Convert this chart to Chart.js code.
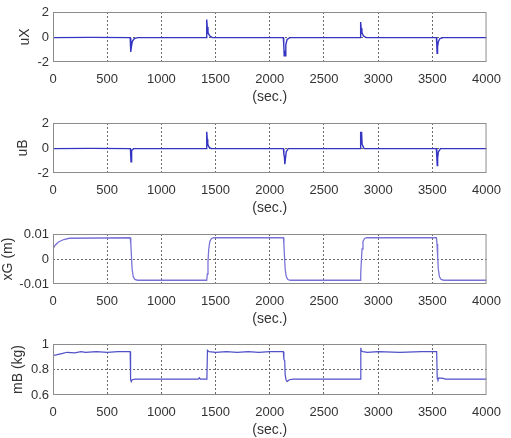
<!DOCTYPE html>
<html>
<head>
<meta charset="utf-8">
<script src="https://cdn.jsdelivr.net/npm/chart.js@4.4.1/dist/chart.umd.min.js"></script>
<style>
    html, body { margin: 0; padding: 0; background: #fff; }
    #wrap { position: relative; width: 511px; height: 438px; overflow: hidden; }
    #wrap canvas { position: absolute; left: 0; }
</style>
</head>
<body>
<div id="wrap"></div>
<script>
// --- Data (time in sec., value) ---
const xTicksMax = 4000;

const uxSeries = [
    [0, -0.05], [350, -0.03], [712, -0.05], [716, -0.5], [719, -1.2], [723, -0.8], [732, -0.35], [750, -0.12], [780, -0.05],
    [1100, -0.05], [1414, -0.05], [1417, 0.6], [1420, 1.4], [1423, 0.8], [1430, 0.35], [1445, 0.1], [1470, -0.05],
    [1800, -0.05], [2125, -0.05], [2129, -0.6], [2133, -1.5], [2137, -1.1], [2142, -1.5], [2148, -0.6], [2160, -0.2], [2185, -0.05],
    [2500, -0.05], [2834, -0.05], [2837, 0.5], [2840, 1.2], [2843, 0.7], [2850, 0.35], [2865, 0.08], [2890, -0.05],
    [3200, -0.05], [3537, -0.05], [3541, -0.6], [3544, -1.3], [3548, -0.8], [3556, -0.35], [3570, -0.12], [3600, -0.05], [4000, -0.05]
];

const ubSeries = [
    [0, -0.05], [350, -0.03], [714, -0.05], [717, -0.6], [720, -1.1], [723, -0.6], [728, -0.2], [745, -0.05],
    [1100, -0.05], [1414, -0.05], [1417, 0.7], [1420, 1.3], [1423, 0.7], [1428, 0.3], [1440, 0.05], [1460, -0.05],
    [1800, -0.05], [2126, -0.05], [2130, -0.5], [2135, -0.7], [2139, -1.3], [2144, -0.9], [2152, -0.3], [2170, -0.05],
    [2500, -0.05], [2834, -0.05], [2837, 0.7], [2840, 1.3], [2843, 1.0], [2847, 1.3], [2852, 0.3], [2870, -0.05],
    [3200, -0.05], [3537, -0.05], [3541, -0.7], [3545, -1.4], [3549, -0.8], [3556, -0.3], [3575, -0.05], [4000, -0.05]
];

const xgSeries = [
    [0, 0.004], [20, 0.0055], [50, 0.0068], [100, 0.0078], [150, 0.0083], [712, 0.0085],
    [718, 0.006], [724, 0.001], [730, -0.004], [740, -0.007], [755, -0.0082], [780, -0.0085],
    [1418, -0.0085], [1424, -0.006], [1430, -0.001], [1437, 0.004], [1447, 0.007], [1462, 0.0082], [1485, 0.0085],
    [2126, 0.0085], [2130, 0.006], [2136, 0.001], [2142, -0.004], [2152, -0.007], [2167, -0.0082], [2190, -0.0085],
    [2834, -0.0085], [2839, -0.006], [2845, -0.001], [2851, 0.004], [2860, 0.007], [2875, 0.0082], [2895, 0.0085],
    [3538, 0.0085], [3543, 0.006], [3549, 0.001], [3555, -0.004], [3565, -0.007], [3580, -0.0082], [3605, -0.0085],
    [4000, -0.0085]
];

const mbSeries = [
    [0, 0.91], [30, 0.915], [80, 0.925], [130, 0.935], [200, 0.93], [260, 0.94], [300, 0.935], [400, 0.94], [500, 0.935], [600, 0.94], [712, 0.94],
    [716, 0.72], [722, 0.705], [730, 0.72], [760, 0.725], [1000, 0.725], [1340, 0.725], [1350, 0.735], [1360, 0.725], [1420, 0.725],
    [1425, 0.95], [1432, 0.945], [1440, 0.94], [1500, 0.935], [1600, 0.94], [1700, 0.935], [1800, 0.94], [1900, 0.935], [2000, 0.94], [2125, 0.94],
    [2130, 0.88], [2138, 0.87], [2142, 0.76], [2150, 0.72], [2160, 0.705], [2180, 0.72], [2220, 0.725], [2500, 0.725], [2835, 0.725],
    [2840, 0.97], [2845, 0.945], [2860, 0.94], [2900, 0.935], [3000, 0.94], [3200, 0.935], [3400, 0.94], [3540, 0.94],
    [3545, 0.73], [3552, 0.72], [3560, 0.735], [3600, 0.73], [3620, 0.725], [3800, 0.725], [4000, 0.725]
];

const panels = [
    { label: 'uX',      points: uxSeries, min: -2,    max: 2,    step: 2,    top: 12,  plotH: 50, color: '#3535c2', lw: 1.4, titlePad: 17 },
    { label: 'uB',      points: ubSeries, min: -2,    max: 2,    step: 2,    top: 123, plotH: 50, color: '#3535c2', lw: 1.4, titlePad: 15 },
    { label: 'xG (m)',  points: xgSeries, min: -0.01, max: 0.01, step: 0.01, top: 234, plotH: 50, color: '#7a72d6', lw: 1.3, titlePad: 0 },
    { label: 'mB (kg)', points: mbSeries, min: 0.6,   max: 1,    step: 0.2,  top: 344, plotH: 51, color: '#5050c8', lw: 1.2, titlePad: 10 }
];

// --- Layout ---
const PAD_TOP = 12;
const PAD_RIGHT = 18;
const Y_AXIS_W = 53;
const X_AXIS_H = 44;
const textColor = '#333';
const tickFont = { family: 'Liberation Sans, Arial, sans-serif', size: 13 };
const titleFont = { family: 'Liberation Sans, Arial, sans-serif', size: 14 };

// draws the full frame round the plot area
const boxPlugin = {
    id: 'box',
    afterDatasetsDraw(chart) {
        const { ctx, chartArea: a } = chart;
        ctx.save();
        ctx.strokeStyle = '#8c8c8c';
        ctx.lineWidth = 1;
        ctx.strokeRect(a.left + 0.5, a.top + 0.5, a.right - a.left - 1, a.bottom - a.top - 1);
        ctx.restore();
    }
};

const wrap = document.getElementById('wrap');

panels.forEach(p => {
    const cv = document.createElement('canvas');
    cv.width = 511;
    cv.height = PAD_TOP + p.plotH + X_AXIS_H;
    cv.style.top = (p.top - PAD_TOP) + 'px';
    wrap.appendChild(cv);

    new Chart(cv, {
        type: 'line',
        data: {
            datasets: [{
                data: p.points.map(([x, y]) => ({ x, y })),
                borderColor: p.color,
                borderWidth: p.lw,
                pointRadius: 0,
                tension: 0,
                fill: false
            }]
        },
        options: {
            responsive: false,
            animation: false,
            devicePixelRatio: 1,
            layout: { padding: { top: PAD_TOP, right: PAD_RIGHT, left: 0, bottom: 0 } },
            plugins: { legend: { display: false }, tooltip: { enabled: false } },
            scales: {
                x: {
                    type: 'linear', min: 0, max: xTicksMax,
                    afterFit: s => { s.height = X_AXIS_H; },
                    ticks: { stepSize: 500, padding: 10, color: textColor, font: tickFont, maxRotation: 0, autoSkip: false, callback: v => String(v) },
                    grid: {
                        drawTicks: false,
                        color: c => (c.tick && c.tick.value > 0 && c.tick.value < xTicksMax) ? '#6a6a6a' : 'rgba(0,0,0,0)'
                    },
                    border: { display: false, dash: [2, 2] },
                    title: { display: true, text: '(sec.)', color: textColor, font: titleFont, padding: { top: 0, bottom: 0 } }
                },
                y: {
                    min: p.min, max: p.max,
                    afterFit: s => { s.width = Y_AXIS_W; },
                    ticks: { stepSize: p.step, padding: 4, color: textColor, font: tickFont, callback: v => String(+v.toFixed(2)) },
                    grid: { drawTicks: false, color: c => c.index === 1 ? '#6a6a6a' : 'rgba(0,0,0,0)' },
                    border: { display: false, dash: [2, 2] },
                    title: { display: true, text: p.label, color: textColor, font: titleFont, padding: { top: p.titlePad, bottom: 0 } }
                }
            }
        },
        plugins: [boxPlugin]
    });
});
</script>
</body>
</html>
